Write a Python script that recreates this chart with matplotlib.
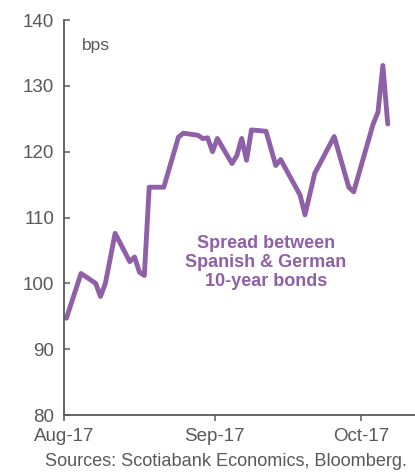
import matplotlib
matplotlib.use("Agg")
import matplotlib.pyplot as plt
import matplotlib.dates as mdates
import pandas as pd

# ---- data (vertices) ----
dates = ["2017-08-01", "2017-08-04", "2017-08-07", "2017-08-08", "2017-08-09",
         "2017-08-11", "2017-08-14", "2017-08-15", "2017-08-16", "2017-08-17",
         "2017-08-18", "2017-08-21", "2017-08-24", "2017-08-25", "2017-08-28",
         "2017-08-29", "2017-08-30", "2017-08-31", "2017-09-01", "2017-09-04",
         "2017-09-05", "2017-09-06", "2017-09-07", "2017-09-08", "2017-09-11",
         "2017-09-13", "2017-09-14", "2017-09-18", "2017-09-19", "2017-09-21",
         "2017-09-25", "2017-09-28", "2017-09-29", "2017-10-03", "2017-10-04",
         "2017-10-05", "2017-10-06"]
spread = [94.7, 101.5, 100.0, 98.0, 100.0,
          107.6, 103.3, 104.0, 101.7, 101.2,
          114.6, 114.6, 122.2, 122.8, 122.5,
          122.0, 122.1, 120.0, 122.0, 118.2,
          119.4, 122.0, 118.7, 123.3, 123.1,
          117.9, 118.8, 113.4, 110.4, 116.7,
          122.3, 114.6, 113.9, 124.2, 126.0,
          133.1, 124.2]
tick_dates = ["2017-08-01", "2017-09-01", "2017-10-01"]
tick_labels = ["Aug-17", "Sep-17", "Oct-17"]
y_ticks = [80, 90, 100, 110, 120, 130, 140]

purple = "#8f5fa8"
grey = "#595959"

plt.rcParams['font.family'] = ['Liberation Sans', 'DejaVu Sans']

W, H = 415, 473
fig = plt.figure(figsize=(W / 100, H / 100), dpi=100)
ax = fig.add_axes([64 / W, (H - 415) / H, 1 - 64 / W, (415 - 20) / H])

x = pd.to_datetime(dates) + pd.Timedelta(hours=12)
ax.plot(x, spread, color=purple, lw=3.5, solid_capstyle='round',
        solid_joinstyle='round')

t0 = mdates.date2num(pd.Timestamp("2017-08-01"))
ax.set_xlim(t0, t0 + 72.1)
ax.set_ylim(80, 140)
ax.set_yticks(y_ticks)
ax.set_xticks(mdates.date2num(pd.to_datetime(tick_dates)))
ax.set_xticklabels(tick_labels)

for s in ["top", "right"]:
    ax.spines[s].set_visible(False)
for s in ["left", "bottom"]:
    ax.spines[s].set_color(grey)
    ax.spines[s].set_linewidth(1.3)

ax.tick_params(axis='y', direction='in', length=4.5, width=1.1, color=grey,
               labelsize=13.5, labelcolor=grey, pad=7)
ax.tick_params(axis='x', direction='out', length=4, width=1.1, color=grey,
               labelsize=13.5, labelcolor=grey, pad=5.5)

ax.text(0.05, 0.955, "bps", transform=ax.transAxes, fontsize=12.5,
        color=grey, ha='left', va='top')

ax.text(mdates.date2num(pd.Timestamp("2017-09-11 12:00")), 103.2,
        "Spread between\nSpanish & German\n10-year bonds",
        color=purple, fontsize=13, fontweight='bold', ha='center',
        va='center', linespacing=1.15)

fig.text(45 / W, 1 - 466 / H, "Sources: Scotiabank Economics, Bloomberg.",
         fontsize=13.1, color=grey, ha='left', va='baseline')

fig.savefig("out.png", dpi=100)
